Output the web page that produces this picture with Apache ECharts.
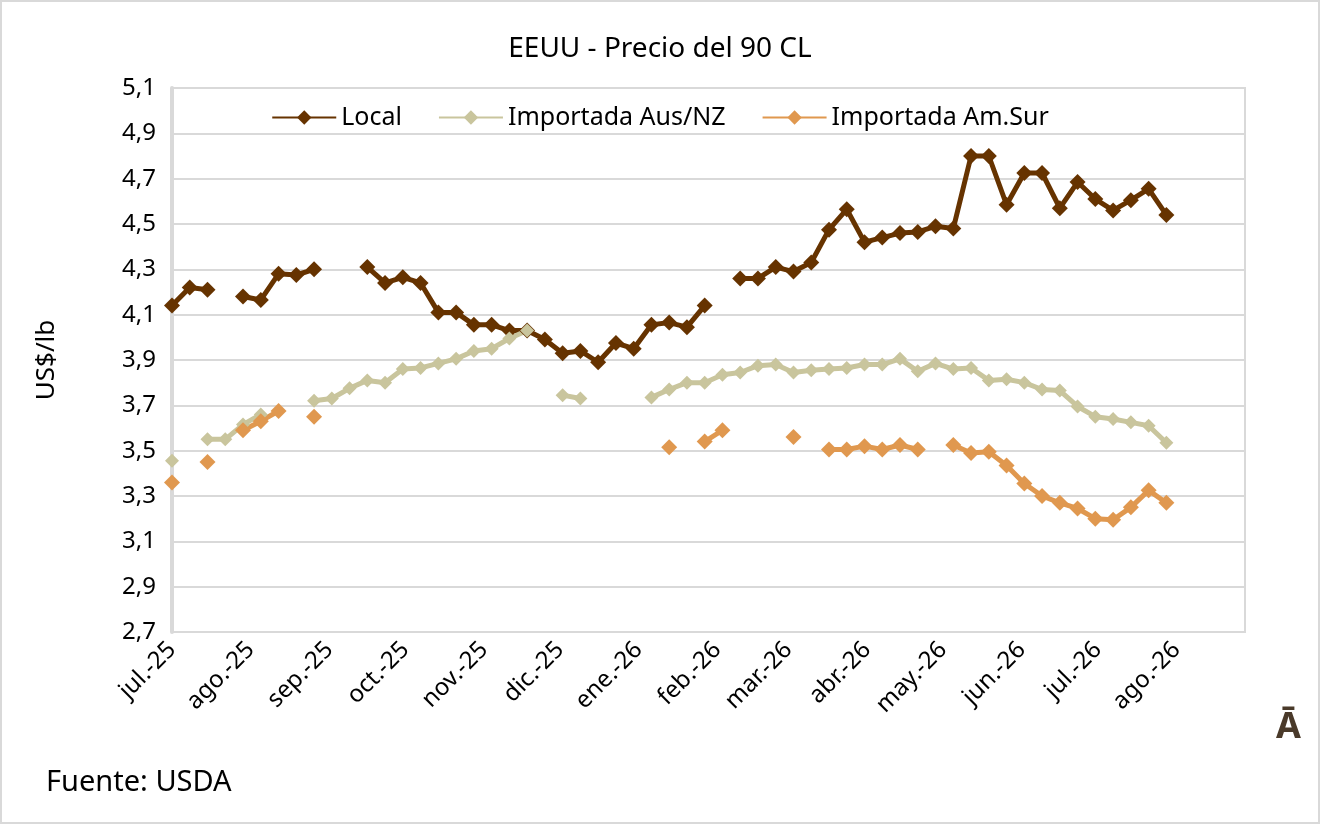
<!DOCTYPE html>
<html><head><meta charset="utf-8">
<script src="https://cdn.jsdelivr.net/npm/echarts@6/dist/echarts.min.js"></script>
<style>html,body{margin:0;padding:0;background:#fff}#c{width:1320px;height:824px}</style>
</head><body><div id="c"></div>
<script>
const startDate = '2025-07-01';
const monthNames = ['ene.','feb.','mar.','abr.','may.','jun.','jul.','ago.','sep.','oct.','nov.','dic.'];
const local = [4.14,4.22,4.21,null,4.18,4.165,4.28,4.275,4.30,null,null,4.31,4.24,4.265,4.24,4.11,4.11,4.055,4.055,4.03,4.03,3.99,3.93,3.94,3.89,3.975,3.95,4.055,4.065,4.045,4.14,null,4.26,4.26,4.31,4.29,4.33,4.475,4.565,4.42,4.44,4.46,4.465,4.49,4.48,4.80,4.80,4.585,4.725,4.725,4.57,4.685,4.61,4.56,4.605,4.655,4.54];
const ausnz = [3.455,null,3.55,3.55,3.615,3.66,null,null,3.72,3.73,3.775,3.81,3.80,3.86,3.865,3.885,3.905,3.94,3.95,3.995,4.03,null,3.745,3.73,null,null,null,3.735,3.77,3.80,3.80,3.835,3.845,3.875,3.88,3.845,3.855,3.86,3.865,3.88,3.88,3.905,3.85,3.885,3.86,3.865,3.81,3.815,3.80,3.77,3.765,3.695,3.65,3.64,3.625,3.61,3.535];
const amsur = [3.36,null,3.45,null,3.59,3.63,3.675,null,3.65,null,null,null,null,null,null,null,null,null,null,null,null,null,null,null,null,null,null,null,3.515,null,3.54,3.59,null,null,null,3.56,null,3.505,3.505,3.52,3.505,3.525,3.505,null,3.525,3.49,3.495,3.435,3.355,3.30,3.27,3.245,3.20,3.195,3.25,3.325,3.27];
const DAY = 86400000;
const t0 = new Date(startDate + 'T00:00:00').getTime();
const dates = local.map((_, i) => t0 + i * 7 * DAY);
const pair = arr => arr.map((v, i) => [dates[i], v]);
const F = '"Noto Sans", sans-serif';
const mk = (name, arr, color, size) => ({
  name, type: 'line', data: pair(arr), connectNulls: false, showAllSymbol: true,
  symbol: 'diamond', symbolSize: size, lineStyle: {width: 5, color}, itemStyle: {color}
});
const chart = echarts.init(document.getElementById('c'));
chart.setOption({
  animation: false,
  graphic: [
    {type: 'rect', shape: {x: 1, y: 1, width: 1318, height: 822}, style: {fill: 'none', stroke: '#d9d9d9', lineWidth: 2}},
    {type: 'text', left: 46, top: 768, style: {text: 'Fuente: USDA', font: '29px ' + F, fill: '#000'}},
    {type: 'text', left: 1276, top: 710, style: {text: 'Ā', font: 'bold 36px ' + F, fill: '#4a3a2a'}}
  ],
  title: {text: 'EEUU - Precio del 90 CL', left: 'center', top: 30, textStyle: {fontFamily: F, fontSize: 28, fontWeight: 'normal', color: '#000'}},
  legend: {top: 100, left: 'center', itemWidth: 64, itemHeight: 18, itemGap: 36,
    textStyle: {fontFamily: F, fontSize: 25, color: '#000'}},
  grid: {left: 172, right: 75, top: 88, bottom: 192, show: true, borderColor: '#d9d9d9', borderWidth: 2},
  xAxis: {type: 'time', min: t0, max: t0 + 423 * DAY, minInterval: 28 * DAY, maxInterval: 31 * DAY,
    axisLine: {show: false}, axisTick: {show: false}, splitLine: {show: false},
    axisLabel: {rotate: 45, fontFamily: F, fontSize: 24, color: '#000', margin: 14, showMaxLabel: false,
      formatter: v => { const d = new Date(v); return monthNames[d.getMonth()] + '-' + String(d.getFullYear()).slice(2); }}},
  yAxis: {type: 'value', min: 2.7, max: 5.1, interval: 0.2, name: 'US$/lb', nameLocation: 'middle', nameGap: 112,
    nameTextStyle: {fontFamily: F, fontSize: 26, color: '#000'},
    axisLine: {show: true, lineStyle: {color: '#d9d9d9', width: 4}}, axisTick: {show: false},
    splitLine: {lineStyle: {color: '#d9d9d9', width: 2}},
    axisLabel: {fontFamily: F, fontSize: 24, color: '#000', margin: 16, formatter: v => v.toFixed(1).replace('.', ',')}},
  series: [
    mk('Local', local, '#663300', 16),
    mk('Importada Aus/NZ', ausnz, '#c9c59d', 14),
    mk('Importada Am.Sur', amsur, '#e0984f', 16)
  ]
});
</script></body></html>
